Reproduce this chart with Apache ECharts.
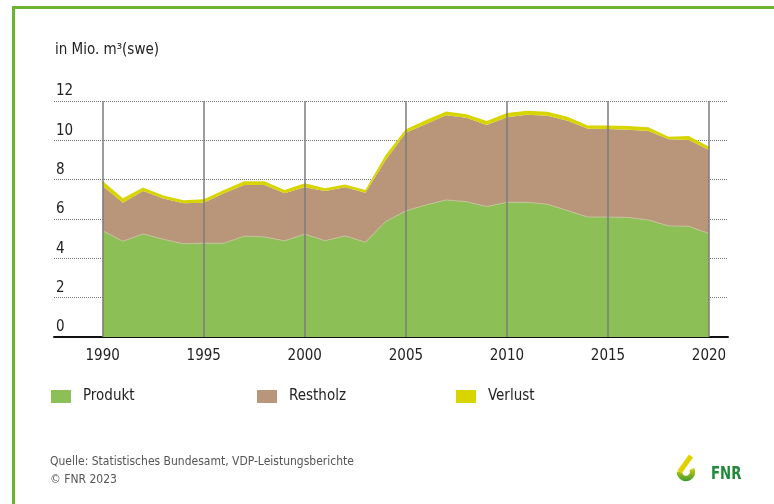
<!DOCTYPE html>
<html>
<head>
<meta charset="utf-8">
<script src="https://cdn.jsdelivr.net/npm/echarts@6/dist/echarts.min.js"></script>
<style>
  html, body { margin: 0; padding: 0; background: #fff; }
  #chart { width: 774px; height: 504px; }
</style>
</head>
<body>
<div id="chart"></div>
<script>
// Daten
const years = [1990, 1991, 1992, 1993, 1994, 1995, 1996, 1997, 1998, 1999, 2000,
  2001, 2002, 2003, 2004, 2005, 2006, 2007, 2008, 2009, 2010,
  2011, 2012, 2013, 2014, 2015, 2016, 2017, 2018, 2019, 2020];
const produkt = [5.40, 4.87, 5.24, 4.97, 4.74, 4.77, 4.77, 5.13, 5.09, 4.89, 5.23,
  4.90, 5.14, 4.82, 5.87, 6.41, 6.72, 6.97, 6.88, 6.63, 6.85,
  6.85, 6.75, 6.43, 6.10, 6.10, 6.08, 5.95, 5.65, 5.63, 5.26];
const restholz = [2.28, 1.96, 2.19, 2.07, 2.06, 2.06, 2.54, 2.60, 2.64, 2.42, 2.38,
  2.53, 2.47, 2.52, 3.13, 3.98, 4.11, 4.30, 4.27, 4.15, 4.32,
  4.45, 4.50, 4.57, 4.49, 4.47, 4.46, 4.52, 4.40, 4.39, 4.25];
const verlust = [0.25, 0.22, 0.17, 0.15, 0.15, 0.17, 0.17, 0.19, 0.19, 0.17, 0.21,
  0.13, 0.14, 0.14, 0.25, 0.17, 0.20, 0.20, 0.18, 0.20, 0.22,
  0.20, 0.20, 0.20, 0.17, 0.19, 0.19, 0.19, 0.13, 0.20, 0.17];
const yearTicks = [1990, 1995, 2000, 2005, 2010, 2015, 2020];

const font = "'Liberation Sans Narrow', 'DejaVu Sans Condensed', 'Open Sans', sans-serif";

// Zeitachse: Jahr -> 1. Januar
const t = (y) => new Date(y, 0, 1).getTime();
const span = t(2020) - t(1990);
const xMin = t(1990) - span * 48.7 / 606.3;
const xMax = t(2020) + span * 19 / 606.3;

const pairs = (vals) => years.map((y, i) => [t(y), vals[i]]);

const areaSeries = (name, vals, color, edge) => ({
  name: name,
  type: 'line',
  stack: 'total',
  data: pairs(vals),
  symbol: 'none',
  lineStyle: edge ? { width: 1, color: edge } : { width: 0 },
  itemStyle: { color: color },
  areaStyle: { color: color, opacity: 1 },
  emphasis: { disabled: true }
});

const myChart = echarts.init(document.getElementById('chart'));

const verlustSeries = areaSeries('Verlust', verlust, '#d7d400');
// senkrechte Linien alle 5 Jahre, mit Jahreszahl unten
verlustSeries.markLine = {
  silent: true,
  symbol: 'none',
  label: {
    show: true,
    position: 'start',
    distance: 12,
    formatter: (p) => String(new Date(p.value).getFullYear()),
    fontFamily: font,
    fontSize: 15,
    color: '#222'
  },
  lineStyle: { color: '#7d7d7d', width: 1.5, type: 'solid' },
  data: yearTicks.map((y) => ({ xAxis: t(y) }))
};

const legendItem = (name, left) => ({
  left: left,
  top: 389,
  padding: 0,
  icon: 'rect',
  itemWidth: 20,
  itemHeight: 13,
  selectedMode: false,
  textStyle: { fontFamily: font, fontSize: 15, color: '#222', padding: [0, 0, 0, 7] },
  data: [name]
});

const logoGradient = {
  type: 'linear', x: 0, y: 0, x2: 0, y2: 1,
  colorStops: [{ offset: 0, color: '#e8d400' }, { offset: 1, color: '#3b9a35' }]
};

const option = {
  animation: false,
  backgroundColor: '#fff',
  textStyle: { fontFamily: font },
  title: {
    text: 'in Mio. m³(swe)',
    left: 50,
    top: 38,
    textStyle: { fontFamily: font, fontSize: 15, fontWeight: 'normal', color: '#222' }
  },
  legend: [
    legendItem('Produkt', 51),
    legendItem('Restholz', 257),
    legendItem('Verlust', 456)
  ],
  grid: { left: 54, right: 46, top: 101, bottom: 167 },
  xAxis: {
    type: 'time',
    min: xMin,
    max: xMax,
    axisLine: { show: true, onZero: false, lineStyle: { color: '#111', width: 2 } },
    axisTick: { show: false },
    splitLine: { show: false },
    axisLabel: { show: false }
  },
  yAxis: {
    type: 'value',
    min: 0,
    max: 12,
    interval: 2,
    axisLine: { show: false },
    axisTick: { show: false },
    axisLabel: {
      inside: true,
      margin: 2,
      verticalAlign: 'bottom',
      padding: [0, 0, 2, 0],
      fontFamily: font,
      fontSize: 15,
      color: '#222'
    },
    splitLine: { lineStyle: { color: '#777', type: 'dotted', width: 1 } }
  },
  series: [
    areaSeries('Produkt', produkt, '#8cbf55', '#c4c19a'),
    areaSeries('Restholz', restholz, '#b99679'),
    verlustSeries
  ],
  graphic: [
    // gruener Rahmen
    { type: 'line', shape: { x1: 12, y1: 7.5, x2: 774, y2: 7.5 }, style: { stroke: '#6bb42e', lineWidth: 3 } },
    { type: 'line', shape: { x1: 13.5, y1: 6, x2: 13.5, y2: 504 }, style: { stroke: '#6bb42e', lineWidth: 3 } },
    // Quelle
    { type: 'text', x: 50, y: 456, style: { text: 'Quelle: Statistisches Bundesamt, VDP-Leistungsberichte', font: '12px ' + font, fill: '#555' } },
    { type: 'text', x: 50, y: 474, style: { text: '© FNR 2023', font: '12px ' + font, fill: '#555' } },
    // Logo
    { type: 'arc', shape: { cx: 686, cy: 472, r: 6.5, startAngle: -0.45, endAngle: Math.PI * 1.02, clockwise: true }, style: { fill: null, lineWidth: 5.5, stroke: logoGradient } },
    { type: 'line', shape: { x1: 679.6, y1: 472, x2: 691, y2: 456 }, style: { lineWidth: 5, stroke: '#e2d100' } },
    { type: 'text', x: 711, y: 465, scaleX: 0.82, style: { text: 'FNR', font: 'bold 18px ' + font, fill: '#208a3a' } }
  ]
};

myChart.setOption(option);
</script>
</body>
</html>
